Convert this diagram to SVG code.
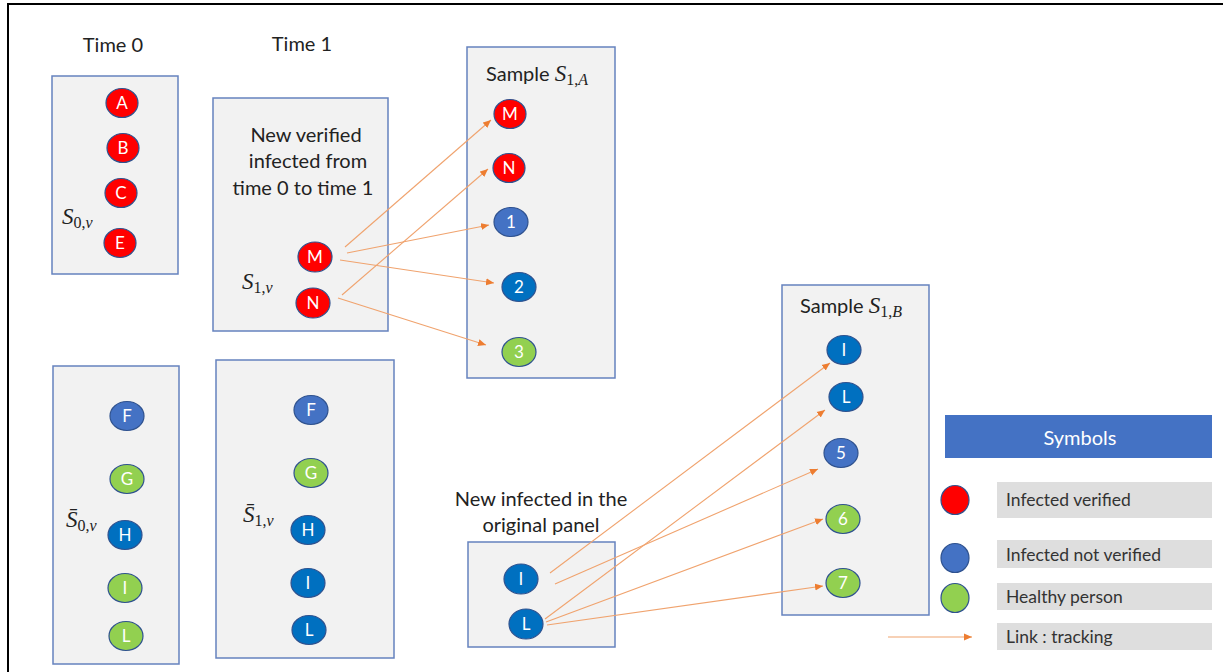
<svg xmlns="http://www.w3.org/2000/svg" width="1223" height="672" viewBox="0 0 1223 672">
<defs>
<style>
.box{fill:#F2F2F2;stroke:#6582BE;stroke-width:1.5}
.r{fill:#FF0000;stroke:#2F528F;stroke-width:1.2}
.b{fill:#4472C4;stroke:#2F528F;stroke-width:1.2}
.d{fill:#0070C0;stroke:#2F528F;stroke-width:1.2}
.g{fill:#92D050;stroke:#2F528F;stroke-width:1.2}
.lb{font-family:Lato,"Liberation Sans",sans-serif;font-size:17px;fill:#FFFFFF;text-anchor:middle}
.t{font-family:Lato,"Liberation Sans",sans-serif;font-size:20px;fill:#222222}
.c{text-anchor:middle}
.m{font-family:"Liberation Serif","DejaVu Serif",serif;font-style:italic;font-size:23px;fill:#222222}
.sub{font-size:16px}
.up{font-style:normal}
.lk{stroke:#F0A36E;stroke-width:1.1;fill:none}
.lg{fill:#DEDEDE}
.lt{font-family:Lato,"Liberation Sans",sans-serif;font-size:17.5px;fill:#333333}
</style>
<marker id="ah" markerUnits="userSpaceOnUse" markerWidth="9" markerHeight="8" refX="8" refY="4" orient="auto">
<path d="M0,0.5 L8,4 L0,7.5 z" fill="#ED7D31"/>
</marker>
</defs>
<rect width="1223" height="672" fill="#FFFFFF"/>
<path d="M8,672 L8,4 L1223,4" fill="none" stroke="#000000" stroke-width="2"/>

<text class="t c" x="113" y="52">Time 0</text>
<text class="t c" x="302" y="51">Time 1</text>

<g id="time0-verified">
<rect class="box" x="52" y="76" width="126" height="198"/>
<ellipse class="r" cx="122" cy="103" rx="16" ry="14.5"/><text class="lb" x="122" y="109">A</text>
<ellipse class="r" cx="123" cy="148" rx="16" ry="14.5"/><text class="lb" x="123" y="154">B</text>
<ellipse class="r" cx="121" cy="193" rx="16" ry="14.5"/><text class="lb" x="121" y="199">C</text>
<ellipse class="r" cx="120" cy="243" rx="16" ry="14.5"/><text class="lb" x="120" y="249">E</text>
<text class="m" x="62" y="224">S<tspan class="sub" dy="4"><tspan class="up">0,</tspan>v</tspan></text>
</g>

<g id="time1-verified">
<rect class="box" x="213" y="98" width="175" height="233"/>
<text class="t c" x="306" y="142">New verified</text>
<text class="t c" x="308" y="168">infected from</text>
<text class="t c" x="303" y="195">time 0 to time 1</text>
<ellipse class="r" cx="315" cy="257" rx="17" ry="15"/><text class="lb" x="315" y="263">M</text>
<ellipse class="r" cx="313" cy="303" rx="17" ry="15"/><text class="lb" x="313" y="309">N</text>
<text class="m" x="242" y="289">S<tspan class="sub" dy="4"><tspan class="up">1,</tspan>v</tspan></text>
</g>

<g id="sample-1A">
<rect class="box" x="467" y="47" width="148" height="331"/>
<text class="t" x="486" y="81">Sample <tspan class="m">S</tspan><tspan class="m sub" dy="4"><tspan class="up">1,</tspan>A</tspan></text>
<ellipse class="r" cx="510" cy="114" rx="16" ry="14.5"/><text class="lb" x="510" y="120">M</text>
<ellipse class="r" cx="509" cy="168" rx="16" ry="14.5"/><text class="lb" x="509" y="174">N</text>
<ellipse class="b" cx="511" cy="222" rx="17" ry="14.5"/><text class="lb" x="511" y="228">1</text>
<ellipse class="d" cx="519" cy="287" rx="17" ry="14.5"/><text class="lb" x="519" y="293">2</text>
<ellipse class="g" cx="519" cy="352" rx="17" ry="14.5"/><text class="lb" x="519" y="358">3</text>
</g>

<g id="time0-other">
<rect class="box" x="53" y="366" width="126" height="298"/>
<ellipse class="b" cx="127" cy="416" rx="17" ry="14.5"/><text class="lb" x="127" y="422">F</text>
<ellipse class="g" cx="127" cy="479" rx="17" ry="14.5"/><text class="lb" x="127" y="485">G</text>
<ellipse class="d" cx="125" cy="535" rx="17" ry="14.5"/><text class="lb" x="125" y="541">H</text>
<ellipse class="g" cx="125" cy="588" rx="17" ry="14.5"/><text class="lb" x="125" y="594">I</text>
<ellipse class="g" cx="126" cy="636" rx="17" ry="14.5"/><text class="lb" x="126" y="642">L</text>
<text class="m" x="66" y="527">S&#x0304;<tspan class="sub" dy="4"><tspan class="up">0,</tspan>v</tspan></text>
</g>

<g id="time1-other">
<rect class="box" x="216" y="360" width="178" height="298"/>
<ellipse class="b" cx="311" cy="410" rx="17" ry="14.5"/><text class="lb" x="311" y="416">F</text>
<ellipse class="g" cx="311" cy="473" rx="17" ry="14.5"/><text class="lb" x="311" y="479">G</text>
<ellipse class="d" cx="308" cy="530" rx="17" ry="14.5"/><text class="lb" x="308" y="536">H</text>
<ellipse class="d" cx="308" cy="583" rx="17" ry="14.5"/><text class="lb" x="308" y="589">I</text>
<ellipse class="d" cx="309" cy="630" rx="17" ry="14.5"/><text class="lb" x="309" y="636">L</text>
<text class="m" x="243" y="522">S&#x0304;<tspan class="sub" dy="4"><tspan class="up">1,</tspan>v</tspan></text>
</g>

<g id="new-infected">
<text class="t c" x="541" y="506">New infected in the</text>
<text class="t c" x="541" y="532">original panel</text>
<rect class="box" x="468" y="542" width="147" height="105"/>
<ellipse class="d" cx="521" cy="579" rx="17" ry="15"/><text class="lb" x="521" y="585">I</text>
<ellipse class="d" cx="526" cy="624" rx="17" ry="15"/><text class="lb" x="526" y="630">L</text>
</g>

<g id="sample-1B">
<rect class="box" x="782" y="285" width="147" height="330"/>
<text class="t" x="800" y="313">Sample <tspan class="m">S</tspan><tspan class="m sub" dy="4"><tspan class="up">1,</tspan>B</tspan></text>
<ellipse class="d" cx="844" cy="350" rx="17" ry="14.5"/><text class="lb" x="844" y="356">I</text>
<ellipse class="d" cx="846" cy="397" rx="17" ry="14.5"/><text class="lb" x="846" y="403">L</text>
<ellipse class="b" cx="841" cy="453" rx="17" ry="14.5"/><text class="lb" x="841" y="459">5</text>
<ellipse class="g" cx="843" cy="519" rx="17" ry="14.5"/><text class="lb" x="843" y="525">6</text>
<ellipse class="g" cx="843" cy="583" rx="17" ry="14.5"/><text class="lb" x="843" y="589">7</text>
</g>

<g id="connectors">
<line class="lk" x1="345" y1="247" x2="491" y2="120" marker-end="url(#ah)"/>
<line class="lk" x1="347" y1="253" x2="489" y2="225" marker-end="url(#ah)"/>
<line class="lk" x1="340" y1="260" x2="494" y2="283" marker-end="url(#ah)"/>
<line class="lk" x1="342" y1="295" x2="488" y2="169" marker-end="url(#ah)"/>
<line class="lk" x1="338" y1="298" x2="486" y2="345" marker-end="url(#ah)"/>
<line class="lk" x1="550" y1="573" x2="830" y2="363" marker-end="url(#ah)"/>
<line class="lk" x1="555" y1="584" x2="818" y2="469" marker-end="url(#ah)"/>
<line class="lk" x1="545" y1="619" x2="825" y2="410" marker-end="url(#ah)"/>
<line class="lk" x1="546" y1="622" x2="823" y2="519" marker-end="url(#ah)"/>
<line class="lk" x1="547" y1="625" x2="823" y2="586" marker-end="url(#ah)"/>
</g>

<g id="legend">
<rect x="945" y="415" width="267" height="43" fill="#4472C4"/>
<text x="1080" y="445" font-family="Lato,'Liberation Sans',sans-serif" font-size="20" fill="#FFFFFF" text-anchor="middle">Symbols</text>
<ellipse class="r" cx="955" cy="500" rx="14" ry="14.5"/>
<rect class="lg" x="997" y="482" width="215" height="36"/>
<text class="lt" x="1006" y="506">Infected verified</text>
<ellipse class="b" cx="955" cy="558" rx="14" ry="14.5"/>
<rect class="lg" x="997" y="540" width="215" height="28"/>
<text class="lt" x="1006" y="561">Infected not verified</text>
<ellipse class="g" cx="955" cy="598" rx="14" ry="14.5"/>
<rect class="lg" x="997" y="583" width="215" height="27"/>
<text class="lt" x="1006" y="603">Healthy person</text>
<line class="lk" x1="888" y1="637" x2="972" y2="637" marker-end="url(#ah)"/>
<rect class="lg" x="997" y="623" width="215" height="27"/>
<text class="lt" x="1006" y="643">Link : tracking</text>
</g>
</svg>
